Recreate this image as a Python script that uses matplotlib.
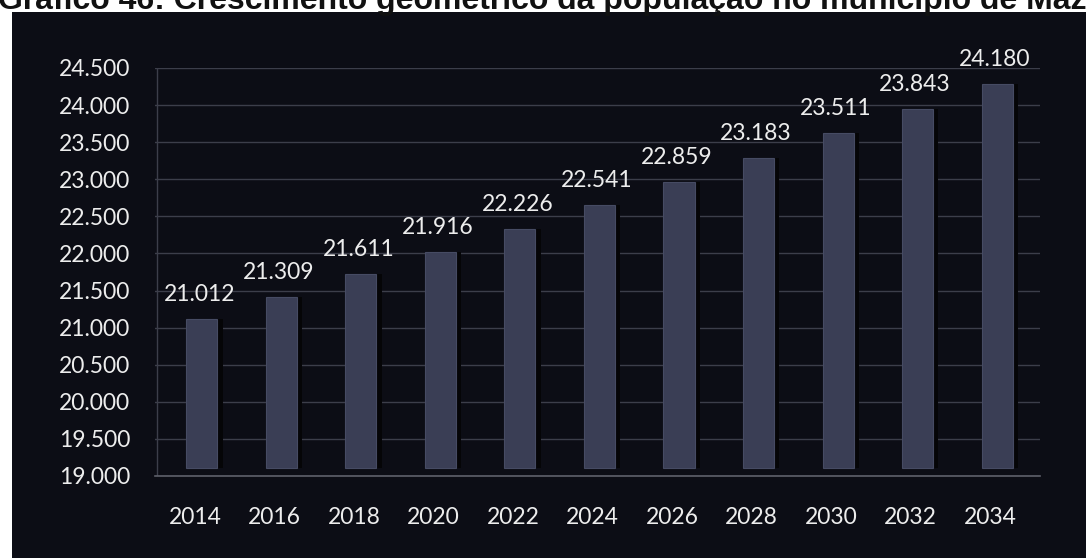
import matplotlib.pyplot as plt
from matplotlib.ticker import FuncFormatter
from matplotlib.transforms import ScaledTranslation

# População estimada (crescimento geométrico)
anos = ["2014", "2016", "2018", "2020", "2022", "2024", "2026", "2028", "2030", "2032", "2034"]
populacao = [21012, 21309, 21611, 21916, 22226, 22541, 22859, 23183, 23511, 23843, 24180]
titulo = "Gráfico 46: Crescimento geométrico da população no município de Mazagão"

plt.rcParams["font.family"] = ["Lato", "DejaVu Sans"]


def milhar(v, pos=None):
    return f"{v:,.0f}".replace(",", ".")


fig = plt.figure(figsize=(10.86, 5.58), dpi=100)
fig.patch.set_facecolor("white")

# painel escuro do fundo
fundo = fig.add_axes([12 / 1086, 0, 1, 1 - 12 / 558])
fundo.set_facecolor("#0c0d15")
fundo.set_xticks([])
fundo.set_yticks([])
for s in fundo.spines.values():
    s.set_visible(False)

fig.text(-0.002, 1 - 9 / 558, titulo, fontsize=23, fontweight="bold",
         family=["Liberation Sans", "DejaVu Sans"], color="#111111",
         ha="left", va="baseline")

ax = fig.add_axes([155 / 1086, 1 - 476 / 558, 885 / 1086, 408 / 558])
ax.set_facecolor("none")

# face frontal das barras um pouco acima do piso (efeito 3D), 8 px
frente = ax.transData + ScaledTranslation(0, 0.08, fig.dpi_scale_trans)

x = list(range(len(anos)))
base = 19000
alturas = [p - base for p in populacao]
ax.bar([i + 0.2 for i in x], alturas, bottom=base, width=0.12,
       color="#050507", zorder=2, transform=frente)
ax.bar(x, alturas, bottom=base, width=0.39, color="#3a3e55",
       edgecolor="#464b63", linewidth=0.8, zorder=3, transform=frente)

for i, p in zip(x, populacao):
    ax.text(i - 0.03, p + 190, milhar(p), ha="center", va="bottom",
            color="#ededed", fontsize=16.5, zorder=4, transform=frente)

ax.set_ylim(19000, 24500)
ax.set_xlim(-0.59, 10.54)
ax.set_yticks(range(19000, 24501, 500))
ax.yaxis.set_major_formatter(FuncFormatter(milhar))
ax.set_xticks(x)
ax.set_xticklabels(anos)
ax.tick_params(axis="both", colors="#ededed", labelsize=16.5, length=0)
ax.tick_params(axis="x", pad=22)
ax.tick_params(axis="y", pad=18)
desloc = ScaledTranslation(-0.07, 0, fig.dpi_scale_trans)
for lbl in ax.get_xticklabels():
    lbl.set_transform(lbl.get_transform() + desloc)

ax.grid(axis="y", color="#3c3e4a", linewidth=1, zorder=1)
for s in ["top", "right", "left"]:
    ax.spines[s].set_visible(False)
ax.spines["bottom"].set_color("#5e606a")
ax.spines["bottom"].set_linewidth(1.2)
ax.axvline(-0.57, color="#3c3e4a", linewidth=1, zorder=1)

fig.savefig("out.png", dpi=100, facecolor=fig.get_facecolor())
